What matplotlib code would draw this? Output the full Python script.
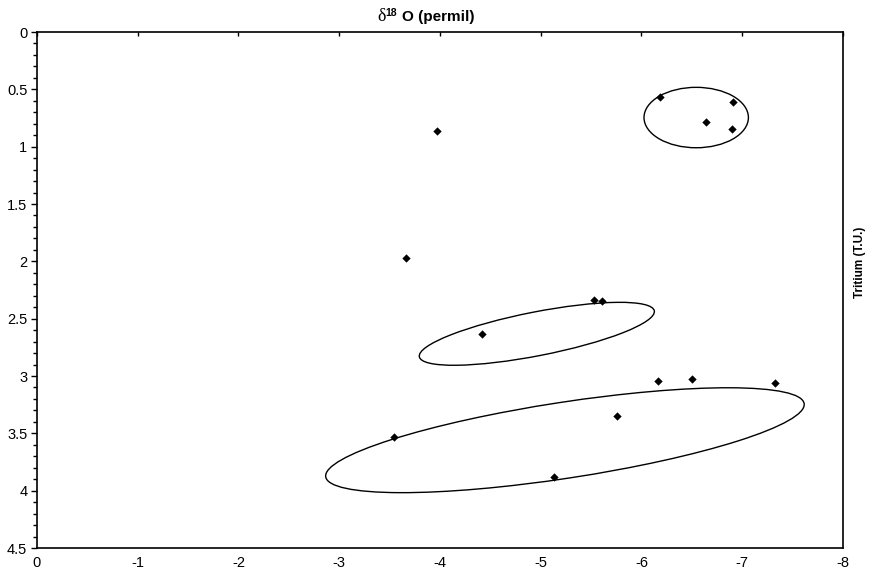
import matplotlib
matplotlib.use("Agg")
import matplotlib.pyplot as plt
from matplotlib.patches import Ellipse
from matplotlib.transforms import ScaledTranslation
from matplotlib.ticker import MultipleLocator
import numpy as np

plt.rcParams['font.family'] = ['Liberation Sans', 'DejaVu Sans']

# data: delta18O (permil) and Tritium (T.U.)
d18o = [-3.97, -3.665, -4.42, -5.53, -5.61, -6.18, -6.905, -6.64, -6.90,
        -3.54, -5.13, -5.76, -6.16, -6.50, -7.33]
tritium = [0.86, 1.97, 2.63, 2.34, 2.35, 0.57, 0.61, 0.785, 0.846,
           3.53, 3.88, 3.35, 3.04, 3.03, 3.06]

# group ellipses: centre (data), semi-axes (inches), angle (deg, on screen)
ell_cx = [-6.543, -4.961, -5.24]
ell_cy = [0.746, 2.632, 3.56]
ell_a = [0.522, 1.197, 2.42]
ell_b = [0.302, 0.219, 0.38]
ell_ang = [0.0, 11.07, 8.7]

xticks = [0, -1, -2, -3, -4, -5, -6, -7, -8]
yticks = [0, 0.5, 1, 1.5, 2, 2.5, 3, 3.5, 4, 4.5]

fig = plt.figure(figsize=(8.7, 5.73), dpi=100)
ax = fig.add_axes([37/870, 1-548/573, (843-37)/870, (548-32)/573])

ax.scatter(d18o, tritium, marker='D', s=18, color='black', zorder=3, linewidths=0)

for cx, cy, a, b, ang in zip(ell_cx, ell_cy, ell_a, ell_b, ell_ang):
    tr = fig.dpi_scale_trans + ScaledTranslation(cx, cy, ax.transData)
    e = Ellipse((0, 0), 2*a, 2*b, angle=ang, transform=tr,
                fill=False, edgecolor='black', linewidth=1.0)
    ax.add_patch(e)

ax.set_xlim(0, -8)
ax.set_ylim(4.5, 0)
ax.set_xticks(xticks)
ax.set_xticklabels([f"{v:g}" for v in xticks])
ax.set_yticks(yticks)
ax.set_yticklabels([f"{v:g}" for v in yticks])
ax.yaxis.set_minor_locator(MultipleLocator(0.1))

ax.tick_params(axis='x', which='major', top=True, bottom=False, direction='in',
               length=3, width=1, labelsize=10.5, pad=6)
ax.tick_params(axis='y', which='major', left=True, right=False, direction='out',
               length=4, width=1, labelsize=10.5, pad=3)
ax.tick_params(axis='y', which='minor', left=True, right=False, direction='out',
               length=3, width=1)

for s in ax.spines.values():
    s.set_linewidth(1.2)

# title built from pieces: upright serif delta, bold superscript 18, bold text
renderer = fig.canvas.get_renderer()
base_y = 1 - 21/573
x0 = 377/870
t1 = fig.text(x0, base_y, '\u03b4', family=['Liberation Serif', 'DejaVu Serif'],
              fontsize=13, ha='left', va='baseline')
w1 = t1.get_window_extent(renderer).width
t2 = fig.text(x0 + (w1 + 0.5)/870, base_y + 5/573, '18', fontsize=7.5, fontweight='bold',
              ha='left', va='baseline')
w2 = t2.get_window_extent(renderer).width
fig.text(x0 + (w1 + w2 + 5)/870, base_y, 'O (permil)', fontsize=11, fontweight='bold',
         ha='left', va='baseline')

fig.text(860/870, 1-262/573, 'Tritium (T.U.)', ha='center', va='center', rotation=90,
         fontsize=8.5, fontweight='bold')

fig.savefig('out.png', dpi=100)
